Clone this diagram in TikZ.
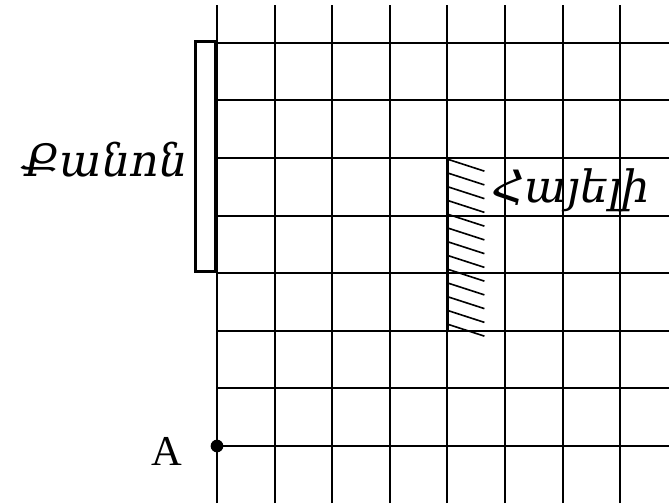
\documentclass[tikz,border=0pt]{standalone}
\usepackage{fontspec}
\setmainfont{Liberation Serif}
\newfontfamily\armfont{DejaVu Serif}
\tikzset{
    gridline/.style={line width=1pt},
    thickedge/.style={line width=1.6pt},
    hatchline/.style={line width=0.8pt},
    armlabel/.style={font=\armfont\itshape\fontsize{22}{26}\selectfont, inner sep=0pt},
}
\begin{document}
\begin{tikzpicture}
    \useasboundingbox (-3.767,-0.99) rectangle (7.847,7.743);
    % 网格
    \foreach \i in {0,...,7} {
        \draw[gridline] (\i,-0.99) -- (\i,7.656);
        \draw[gridline] (0,\i) -- (7.847,\i);
    }

    % 尺子
    \node (ruler) [draw, thickedge, minimum width=0.35cm, minimum height=4cm, inner sep=0pt, anchor=south east] at (0,3) {};
    \node (rulerlabel) [armlabel, anchor=base east] at (-0.5,4.675) {Քանոն};

    % 镜子及其阴影线
    \coordinate (mirrortop) at (4,5);
    \coordinate (mirrorbot) at (4,2);
    \draw[thickedge] (mirrortop) -- (mirrorbot);
    \foreach \k in {0,...,12}
        \draw[hatchline] (4,4.98-0.2387*\k) -- ++(0.642,-0.208);
    \node (mirrorlabel) [armlabel, anchor=base west] at (4.774,4.22) {Հայելի};

    % 点 A
    \node (A) [circle, fill, inner sep=0pt, minimum size=0.22cm] at (0,0) {};
    \node (Alabel) [font=\fontsize{21}{25}\selectfont, anchor=base east, inner sep=0pt] at (-0.59,-0.33) {A};
\end{tikzpicture}
\end{document}
